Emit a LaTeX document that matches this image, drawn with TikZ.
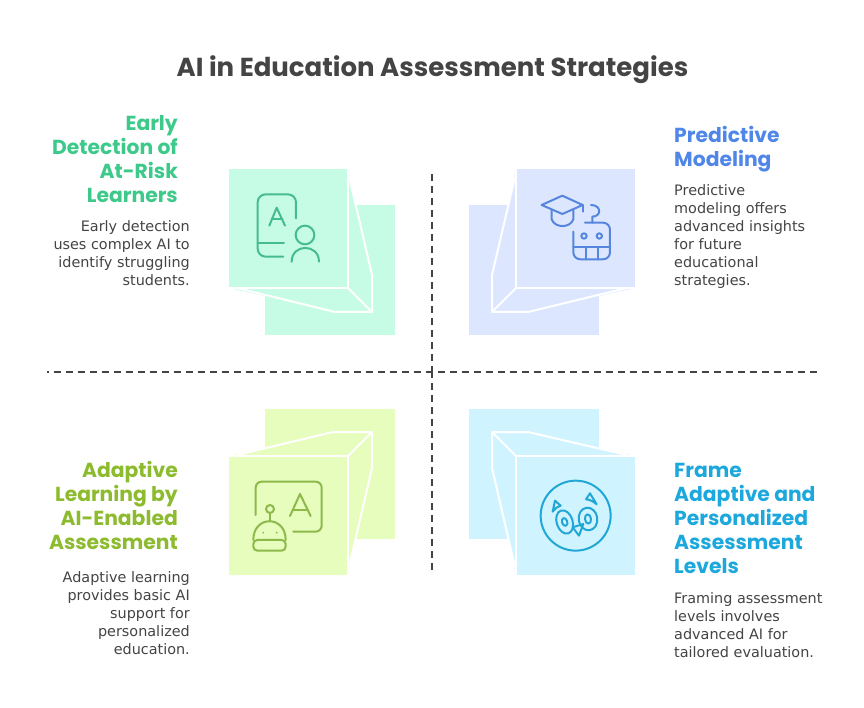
\documentclass[tikz,border=0pt]{standalone}
\usepackage{fontspec}
\setmainfont{DejaVu Sans}
\newfontfamily\headfont{Poppins}
\usetikzlibrary{positioning}
\definecolor{greenback}{HTML}{C6FCE6}
\definecolor{greenicon}{HTML}{45BC90}
\definecolor{greentext}{HTML}{3CC98A}
\definecolor{blueback}{HTML}{DCE7FF}
\definecolor{blueicon}{HTML}{5585DC}
\definecolor{bluetext}{HTML}{4F86E8}
\definecolor{limeback}{HTML}{E6FDBE}
\definecolor{limeicon}{HTML}{8DB84A}
\definecolor{limetext}{HTML}{8DBB2E}
\definecolor{cyanback}{HTML}{D0F4FF}
\definecolor{cyanicon}{HTML}{22A6D6}
\definecolor{cyantext}{HTML}{1CA8DC}
\definecolor{inkgray}{HTML}{444444}
\tikzset{
  headtext/.style={inner sep=0pt,font=\headfont\bfseries\fontsize{20.3}{24}\selectfont},
  bodytext/.style={inner sep=0pt,text=inkgray,font=\fontsize{14.4}{18}\selectfont},
  foldline/.style={white,line width=2pt,line join=round},
  iconline/.style={line width=2pt,line cap=round,line join=round},
  axisline/.style={inkgray,line width=1.5pt,dash pattern=on 7pt off 5pt}
}
\begin{document}
\begin{tikzpicture}[x=1pt,y=-1pt]
\useasboundingbox (0,0) rectangle (864,708);
\node [inner sep=0pt,text=inkgray,font=\headfont\bfseries\fontsize{26}{30}\selectfont] (title) at (432.5,70) {AI in Education Assessment Strategies};
\fill [greenback] (265,205) rectangle (395,335);
\fill [greenback] (348,169) -- (372,275) -- (372,312) -- (335,312) -- (229,288) -- cycle;
\fill [greenback] (229,169) rectangle (347,287);
\draw [foldline] (349,176) -- (372,275) -- (372,312) -- (335,312) -- (237,288);
\draw [foldline] (348,169) -- (348,288) -- (229,288);
\draw [foldline] (348,288) -- (372,312);
\fill [blueback] (469,205) rectangle (599,335);
\fill [blueback] (516,169) -- (492,275) -- (492,312) -- (528,312) -- (635,288) -- cycle;
\fill [blueback] (517,169) rectangle (635,287);
\draw [foldline] (515,177) -- (492,275) -- (492,312) -- (528,312) -- (627,288);
\draw [foldline] (516,169) -- (516,288) -- (635,288);
\draw [foldline] (516,288) -- (492,312);
\fill [limeback] (265,409) rectangle (395,539);
\fill [limeback] (229,456) -- (333,432) -- (372,432) -- (372,468) -- (348,575) -- cycle;
\fill [limeback] (229,457) rectangle (347,575);
\draw [foldline] (237,455) -- (333,432) -- (372,432) -- (372,468) -- (349,567);
\draw [foldline] (229,456) -- (348,456) -- (348,575);
\draw [foldline] (348,456) -- (372,432);
\fill [cyanback] (469,409) rectangle (599,539);
\fill [cyanback] (635,456) -- (528,432) -- (492,432) -- (492,468) -- (516,575) -- cycle;
\fill [cyanback] (517,457) rectangle (635,575);
\draw [foldline] (627,455) -- (528,432) -- (492,432) -- (492,468) -- (515,567);
\draw [foldline] (635,456) -- (516,456) -- (516,575);
\draw [foldline] (516,456) -- (492,432);
\coordinate (axistop) at (432,174);
\coordinate (axiscentre) at (432,371);
\coordinate (axisbottom) at (432,570);
\coordinate (axisleft) at (47,372);
\coordinate (axisright) at (817,372);
\draw [axisline] (axistop) -- (axiscentre);
\draw [axisline] (axiscentre) -- (axisbottom);
\draw [axisline,dash phase=5pt] (axisleft) -- (axisright);
\begin{scope}[shift={(220,160)},scale=0.3333,iconline,greenicon]
\draw [rounded corners=8pt] (228,175) -- (228,103) -- (113,103) -- (113,290) -- (190,290);
\draw (113,250) -- (192,250);
\draw (148,197) -- (170,143) -- (195,197);
\draw (155,178) -- (188,178);
\draw (255,225) circle (28);
\draw (215,305) .. controls (215,250) and (297,250) .. (297,305);
\end{scope}
\begin{scope}[shift={(460,160)},scale=0.3333,iconline,blueicon]
\draw (245,135) -- (307,107) -- (368,135) -- (307,162) -- cycle;
\draw (368,135) -- (368,155);
\draw (275,150) -- (275,178) .. controls (285,205) and (330,205) .. (340,178) -- (340,150);
\draw (393,135) .. controls (425,135) and (425,170) .. (397,170) -- (397,188);
\draw [rounded corners=7pt] (375,188) -- (450,188) -- (450,298) -- (340,298) -- (340,215);
\draw (340,262) -- (450,262);
\draw (377,262) -- (377,298);
\draw (415,262) -- (415,298);
\draw (372,228) circle (8);
\draw (418,228) circle (8);
\end{scope}
\begin{scope}[shift={(220,400)},scale=0.3333,iconline,limeicon]
\draw [rounded corners=6pt] (107,345) -- (107,245) -- (305,245) -- (305,395) -- (220,395);
\draw (210,348) -- (240,282) -- (272,348);
\draw (220,330) -- (262,330);
\draw (150,327) circle (12);
\draw (150,340) -- (150,362);
\draw (100,420) .. controls (100,345) and (197,345) .. (197,420);
\draw [rounded corners=4pt] (100,420) -- (197,420) -- (197,452) -- (100,452) -- cycle;
\fill (130,398) circle (3);
\fill (170,398) circle (3);
\end{scope}
\begin{scope}[shift={(460,400)},scale=0.3333,iconline,cyanicon]
\draw (347,347) circle (105);
\draw (278,335) -- (285,302) -- (302,317) .. controls (292,320) and (284,326) .. (278,335);
\draw (378,298) -- (390,280) -- (410,313) .. controls (400,304) and (390,299) .. (378,298);
\draw [rotate around={18:(314,366)}] (314,366) ellipse (24 and 36);
\draw [rotate around={18:(314,366)}] (314,366) ellipse (8 and 12);
\draw [rotate around={8:(384,357)}] (384,357) ellipse (28 and 34);
\draw [rotate around={8:(384,357)}] (384,357) ellipse (9 and 14);
\draw (338,382) -- (370,372) -- (357,407) -- cycle;
\end{scope}
\node [headtext,text=greentext,align=right,anchor=north east] (greenhead) at (178,115) {Early\\Detection of\\At-Risk\\Learners};
\node [bodytext,align=right,anchor=north east] (greenbody) at (190,220) {Early detection\\uses complex AI to\\identify struggling\\students.};
\node [headtext,text=bluetext,align=left,anchor=north west] (bluehead) at (674,126) {Predictive\\Modeling};
\node [bodytext,align=left,anchor=north west] (bluebody) at (674,184) {Predictive\\modeling offers\\advanced insights\\for future\\educational\\strategies.};
\node [headtext,text=limetext,align=right,anchor=north east] (limehead) at (178,461.5) {Adaptive\\Learning by\\AI-Enabled\\Assessment};
\node [bodytext,align=right,anchor=north east] (limebody) at (190,571) {Adaptive learning\\provides basic AI\\support for\\personalized\\education.};
\node [headtext,text=cyantext,align=left,anchor=north west] (cyanhead) at (674,463) {Frame\\Adaptive and\\Personalized\\Assessment\\Levels};
\node [bodytext,align=left,anchor=north west] (cyanbody) at (674,592) {Framing assessment\\levels involves\\advanced AI for\\tailored evaluation.};
\end{tikzpicture}
\end{document}
